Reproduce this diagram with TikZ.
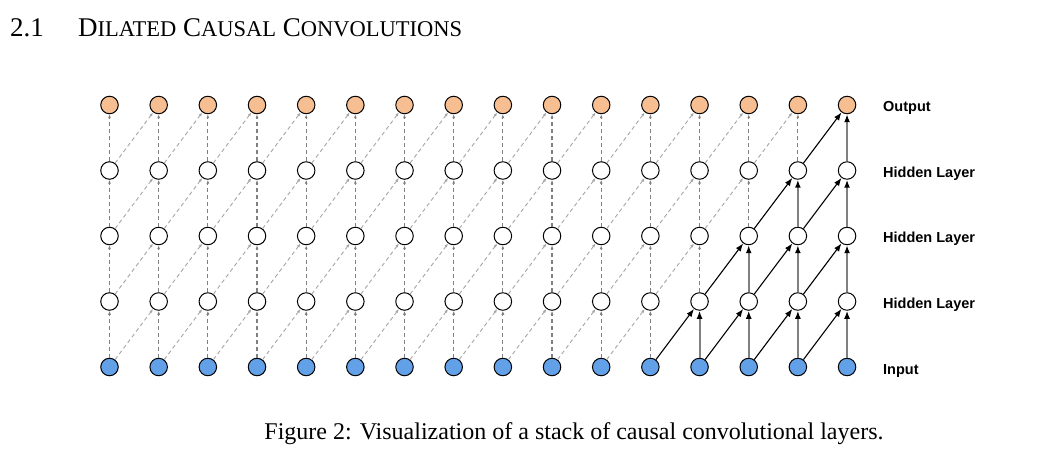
\documentclass[tikz,border=0pt]{standalone}
\usepackage{fontspec}
\setmainfont{Liberation Serif}
\newfontfamily\layerfont{Liberation Sans}
\usepackage{tikz}
\usetikzlibrary{arrows.meta}
\definecolor{outfill}{RGB}{246,190,145}
\definecolor{infill}{RGB}{98,161,232}
\tikzstyle{unit} = [draw=black, line width=1pt, circle, minimum size=17.5pt, inner sep=0pt]
\tikzstyle{outunit} = [unit, fill=outfill]
\tikzstyle{hidunit} = [unit, fill=white]
\tikzstyle{inunit} = [unit, fill=infill]
\tikzstyle{vdash} = [draw=black!50, line width=1.2pt, dash pattern=on 4pt off 3pt, -{Latex[length=4pt,width=3pt]}]
\tikzstyle{ddash} = [draw=black!35, line width=0.9pt, dash pattern=on 4pt off 3pt, -{Latex[length=4pt,width=3pt]}]
\tikzstyle{vsolid} = [draw=black!50, line width=1.9pt, -{Latex[length=8pt,width=6pt,color=black]}]
\tikzstyle{dsolid} = [draw=black, line width=1.1pt, -{Latex[length=8pt,width=6pt]}]
\tikzstyle{layername} = [anchor=base west, inner sep=0pt, font=\layerfont\bfseries\fontsize{14.5}{16}\selectfont]
\newcommand{\smallcap}[2]{#1{\fontsize{22.5}{24}\selectfont #2}}

\begin{document}
\begin{tikzpicture}[x=1pt, y=-1pt]
    \useasboundingbox (0,0) rectangle (1038,462);
    % section heading
    \node [anchor=base west, inner sep=0pt, font=\fontsize{27}{29}\selectfont] (secnum) at (10,37) {2.1};
    \node [anchor=base west, inner sep=0pt, font=\fontsize{27}{29}\selectfont] (sectitle) at (78,37)
        {\smallcap{D}{ILATED} \smallcap{C}{AUSAL} \smallcap{C}{ONVOLUTIONS}};
    % units: row 0 = input, rows 1-3 = hidden, row 4 = output
    \foreach \r/\ypos in {0/367, 1/301.5, 2/236, 3/170.5, 4/105} {
        \foreach \c in {0,...,15} {
            \ifnum\r=0
                \node [inunit] (n\r-\c) at (109.5+49.17*\c, \ypos) {};
            \else\ifnum\r=4
                \node [outunit] (n\r-\c) at (109.5+49.17*\c, \ypos) {};
            \else
                \node [hidunit] (n\r-\c) at (109.5+49.17*\c, \ypos) {};
            \fi\fi
        }
    }
    % connections
    \foreach \r in {0,...,3} {
        \pgfmathtruncatemacro{\up}{\r+1}
        \pgfmathtruncatemacro{\vfrom}{12+\r}
        \pgfmathtruncatemacro{\dfrom}{11+\r}
        \foreach \c in {0,...,15} {
            \ifnum\c<\vfrom
                \draw [vdash] (n\r-\c) -- (n\up-\c);
            \else
                \draw [vsolid] (n\r-\c) -- (n\up-\c);
            \fi
            \ifnum\c<15
                \pgfmathtruncatemacro{\nxt}{\c+1}
                \ifnum\c<\dfrom
                    \draw [ddash] (n\r-\c) -- (n\up-\nxt);
                \else
                    \draw [dsolid] (n\r-\c) -- (n\up-\nxt);
                \fi
            \fi
        }
    }
    % layer names
    \node [layername] (outname) at (883,111.5) {Output};
    \node [layername] (hidname3) at (883,177.5) {Hidden Layer};
    \node [layername] (hidname2) at (883,243) {Hidden Layer};
    \node [layername] (hidname1) at (883,308.5) {Hidden Layer};
    \node [layername] (inname) at (883,374) {Input};
    % caption
    \node [anchor=base, inner sep=0pt, font=\fontsize{24}{26}\selectfont] (caption) at (574,439)
        {Figure 2: Visualization of a stack of causal convolutional layers.};
\end{tikzpicture}
\end{document}
